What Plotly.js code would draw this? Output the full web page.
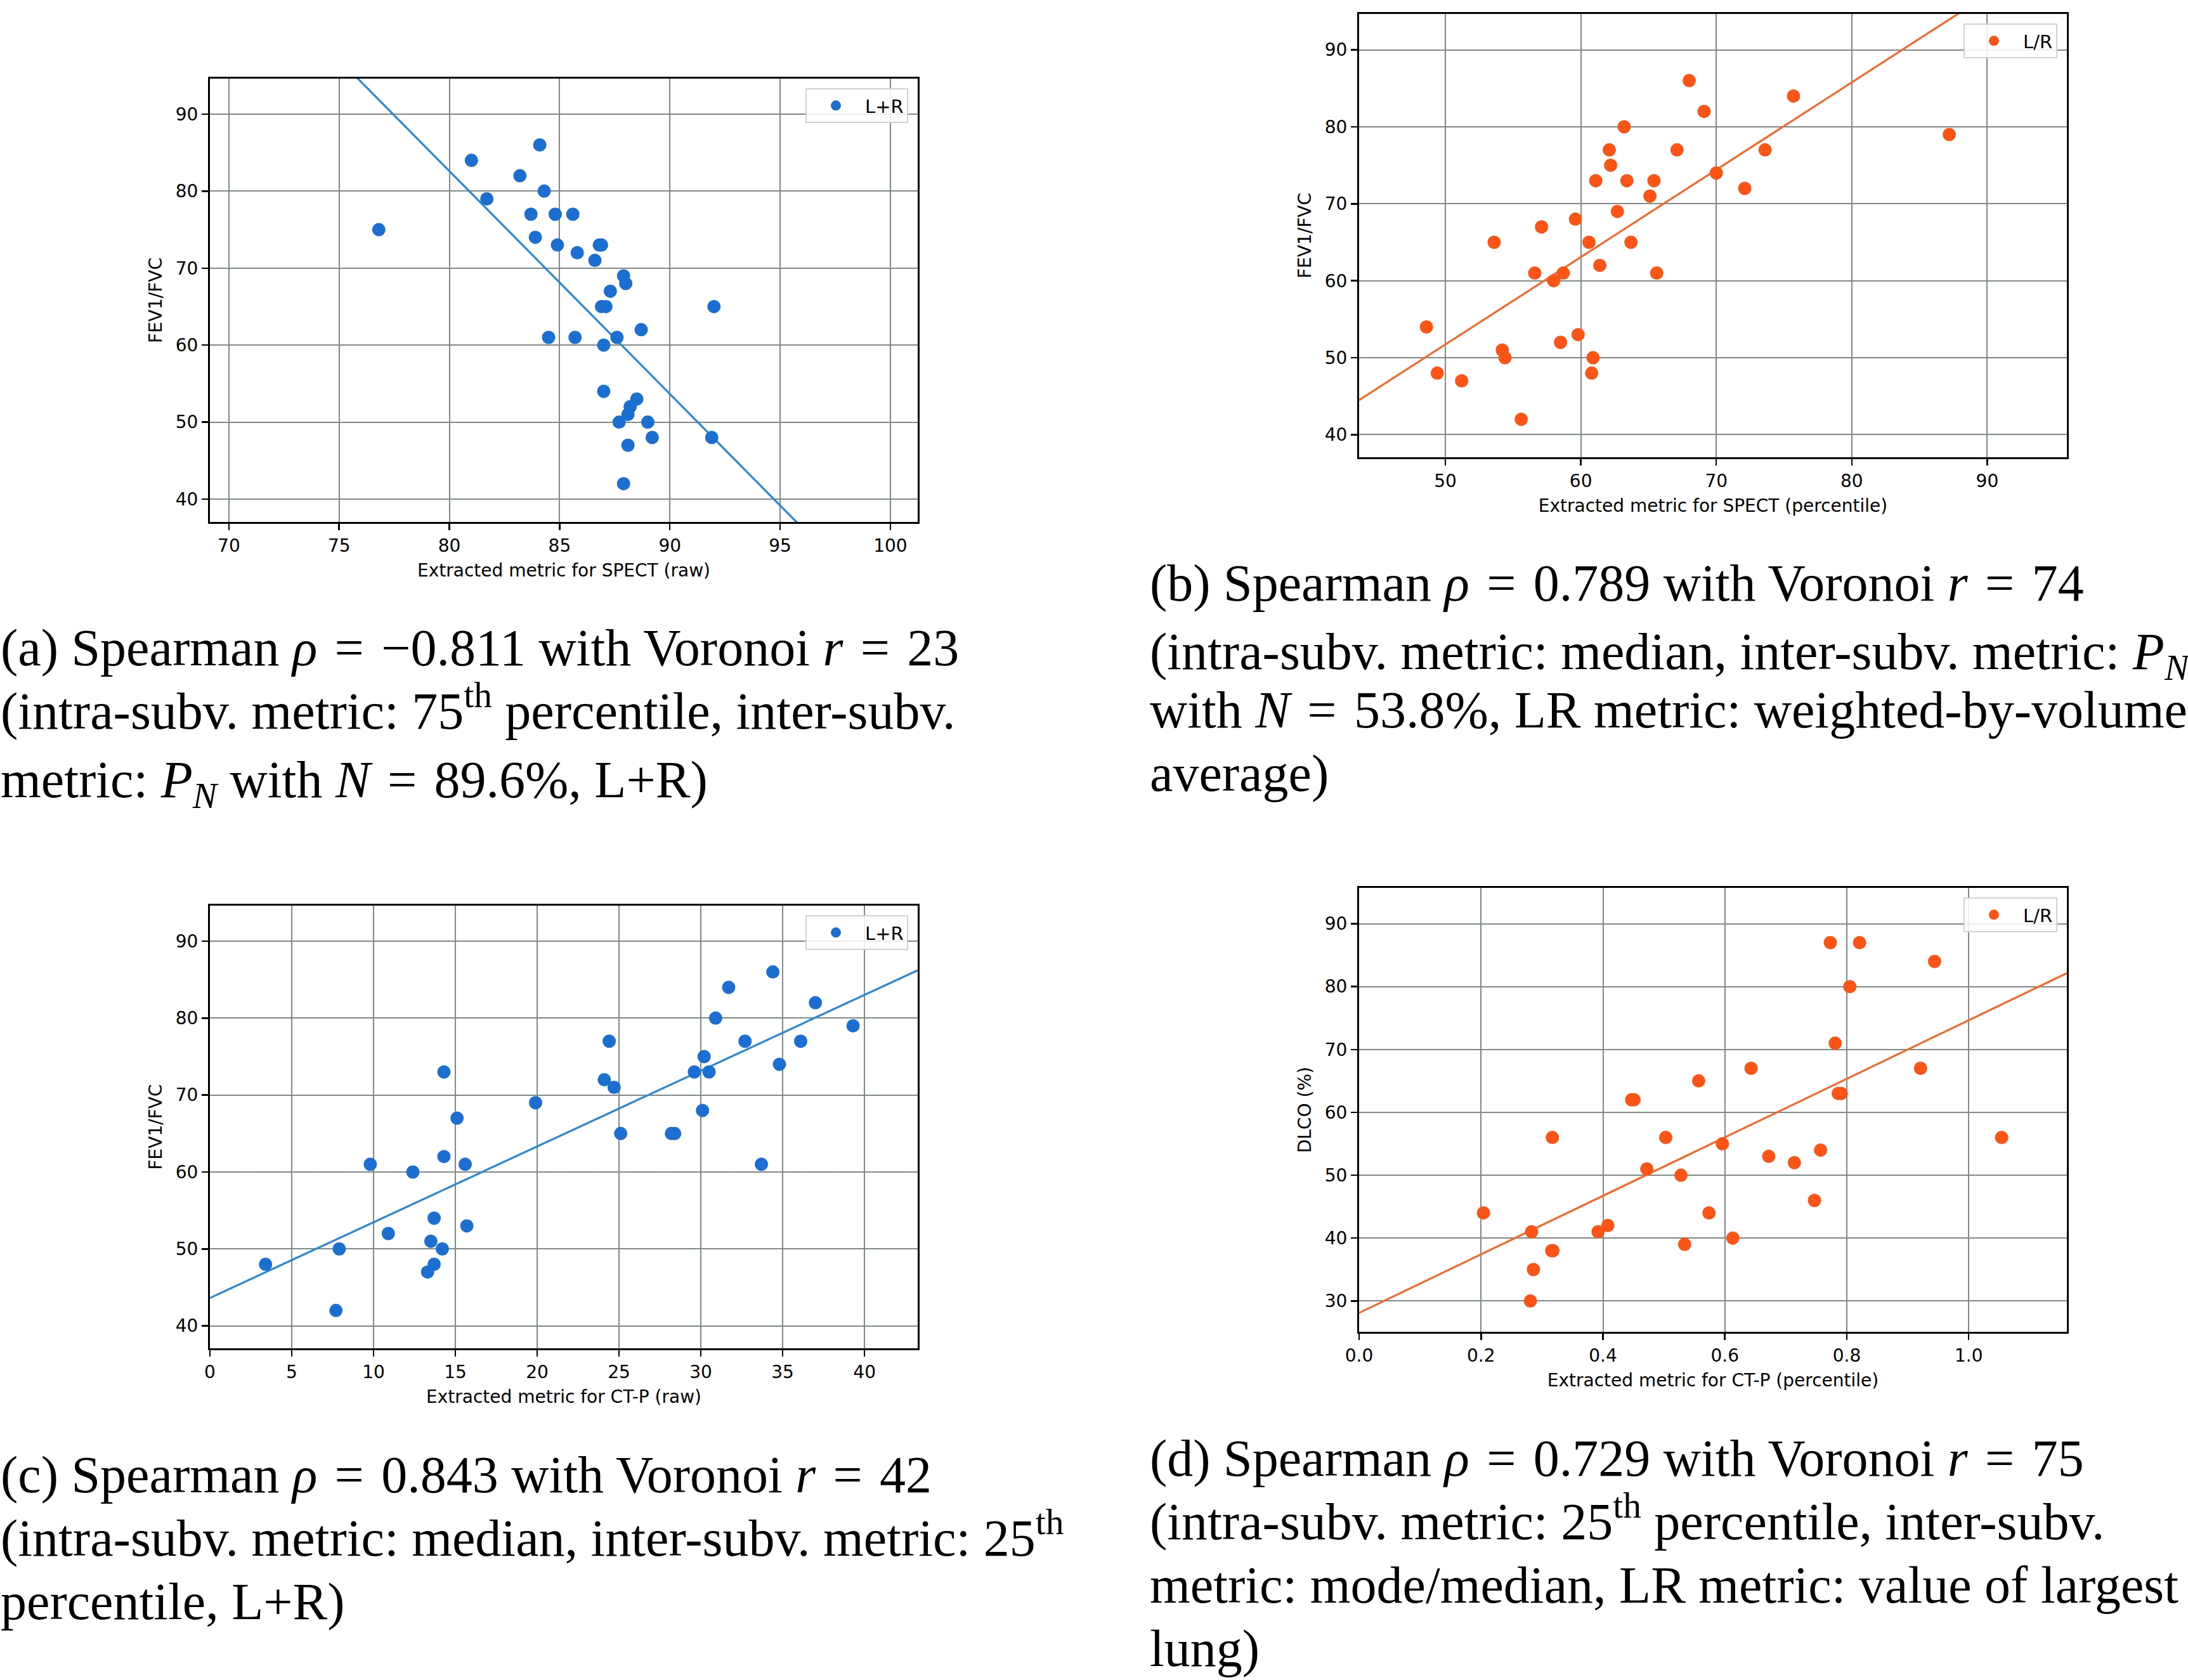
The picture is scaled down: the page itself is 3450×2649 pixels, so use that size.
<!DOCTYPE html>
<html>
<head>
<meta charset="utf-8">
<script src="https://cdn.plot.ly/plotly-3.0.1.min.js"></script>
<style>html,body{margin:0;padding:0;background:#fff;}</style>
</head>
<body>
<div id="chart" style="width:3450px;height:2649px;"></div>
<script>
// ---- (a) SPECT, raw metric, L+R ----
const spectRawX = [76.8, 81.0, 84.1, 83.2, 84.3, 81.7, 83.7, 84.8, 85.6, 83.9, 84.9, 86.8, 86.9, 85.8, 86.6, 87.9, 88.0, 87.3,
                   86.9, 87.1, 92.0, 88.7, 84.5, 85.7, 87.6, 87.0, 87.0, 88.5, 88.2, 88.1, 87.7, 89.0, 89.2, 91.9, 88.1, 87.9];
const spectRawY = [75, 84, 86, 82, 80, 79, 77, 77, 77, 74, 73, 73, 73, 72, 71, 69, 68, 67,
                   65, 65, 65, 62, 61, 61, 61, 60, 54, 53, 52, 51, 50, 50, 48, 48, 47, 42];
const spectRawFit = {slope: -2.895, intercept: 314.2};

// ---- (b) SPECT, percentile metric, L/R ----
const spectPctX = [68.0, 75.7, 69.1, 63.2, 87.2, 62.1, 67.1, 73.6, 62.2, 70.0, 61.1, 63.4, 65.4, 72.1, 65.1, 62.7, 59.6, 57.1,
                   53.6, 60.6, 63.7, 61.4, 56.6, 58.7, 65.6, 58.0, 48.6, 59.8, 58.5, 54.2, 54.4, 60.9, 49.4, 60.8, 51.2, 55.6];
const spectPctY = [86, 84, 82, 80, 79, 77, 77, 77, 75, 74, 73, 73, 73, 72, 71, 69, 68, 67,
                   65, 65, 65, 62, 61, 61, 61, 60, 54, 53, 52, 51, 50, 50, 48, 48, 47, 42];
const spectPctFit = {slope: 1.135, intercept: -5.03};

// ---- (c) CT-P, raw metric, L+R ----
const ctpRawX = [3.4, 7.7, 7.9, 9.8, 10.9, 12.4, 13.3, 13.5, 13.7, 13.7, 14.2, 14.3, 14.3, 15.1, 15.6, 15.7, 19.9, 24.1,
                 24.4, 24.7, 25.1, 28.2, 28.4, 29.6, 30.1, 30.2, 30.5, 30.9, 31.7, 32.7, 33.7, 34.4, 34.8, 36.1, 37.0, 39.3];
const ctpRawY = [48, 42, 50, 61, 52, 60, 47, 51, 54, 48, 50, 73, 62, 67, 61, 53, 69, 72,
                 77, 71, 65, 65, 65, 73, 68, 75, 73, 80, 84, 77, 61, 86, 74, 77, 82, 79];
const ctpRawFit = {slope: 0.985, intercept: 43.62};

// ---- (d) CT-P, percentile metric, L/R, against DLCO ----
const ctpPctX = [0.773, 0.821, 0.944, 0.805, 0.781, 0.643, 0.921, 0.557, 0.786, 0.791, 0.447, 0.451, 0.317, 0.503, 1.054,
                 0.596, 0.757, 0.672, 0.714, 0.472, 0.528, 0.747, 0.204, 0.574, 0.408, 0.283, 0.392, 0.613, 0.534, 0.316,
                 0.318, 0.286, 0.281];
const ctpPctY = [87, 87, 84, 80, 71, 67, 67, 65, 63, 63, 62, 62, 56, 56, 56,
                 55, 54, 53, 52, 51, 50, 46, 44, 44, 42, 41, 41, 40, 39, 38,
                 38, 35, 30];
const ctpPctFit = {slope: 46.54, intercept: 28.10};

// ---- axis ticks ----
const ticksSpectRaw = [70, 75, 80, 85, 90, 95, 100];
const ticksSpectPct = [50, 60, 70, 80, 90];
const ticksCtpRaw = [0, 5, 10, 15, 20, 25, 30, 35, 40];
const ticksCtpPct = [0, 0.2, 0.4, 0.6, 0.8, 1.0];
const ticksFev = [40, 50, 60, 70, 80, 90];
const ticksDlco = [30, 40, 50, 60, 70, 80, 90];

// ---- captions (EQ = relation with math spacing) ----
const EQ = '\u2004=\u2004';
const captionA = [
  "(a) Spearman <i>ρ</i>" + EQ + "−0.811 with Voronoi <i>r</i>" + EQ + "23",
  "(intra-subv. metric: 75<sup>th</sup> percentile, inter-subv.",
  "metric: <i>P</i><sub><i>N</i></sub> with <i>N</i>" + EQ + "89.6%, L+R)"
];
const captionB = [
  "(b) Spearman <i>ρ</i>" + EQ + "0.789 with Voronoi <i>r</i>" + EQ + "74",
  "(intra-subv. metric: median, inter-subv. metric: <i>P</i><sub><i>N</i></sub>",
  "with <i>N</i>" + EQ + "53.8%, LR metric: weighted-by-volume",
  "average)"
];
const captionC = [
  "(c) Spearman <i>ρ</i>" + EQ + "0.843 with Voronoi <i>r</i>" + EQ + "42",
  "(intra-subv. metric: median, inter-subv. metric: 25<sup>th</sup>",
  "percentile, L+R)"
];
const captionD = [
  "(d) Spearman <i>ρ</i>" + EQ + "0.729 with Voronoi <i>r</i>" + EQ + "75",
  "(intra-subv. metric: 25<sup>th</sup> percentile, inter-subv.",
  "metric: mode/median, LR metric: value of largest",
  "lung)"
];

// ---- page geometry (pixels) ----
const W = 3450, H = 2649;
const px = v => v / W;
const py = v => 1 - v / H;

const BLUE_PT = '#1c6fd1', BLUE_LN = '#2a88d4';
const ORANGE_PT = '#fa5516', ORANGE_LN = '#f46a2c';
const TICK_FONT = {family: 'DejaVu Sans', size: 28, color: '#000'};
const CAP_FONT = {family: 'Liberation Serif', size: 82, color: '#000'};

const panels = [
  {x: spectRawX, y: spectRawY, fit: spectRawFit, name: 'L+R', pt: BLUE_PT, ln: BLUE_LN,
   box: [331, 1447, 124, 823], xr: [69.14, 101.24], yr: [37.03, 94.61],
   xt: ticksSpectRaw, yt: ticksFev, xlab: 'Extracted metric for SPECT (raw)', ylab: 'FEV1/FVC', fmt: ''},
  {x: spectPctX, y: spectPctY, fit: spectPctFit, name: 'L/R', pt: ORANGE_PT, ln: ORANGE_LN,
   box: [2143, 3259, 22, 721], xr: [43.63, 95.88], yr: [37.07, 94.66],
   xt: ticksSpectPct, yt: ticksFev, xlab: 'Extracted metric for SPECT (percentile)', ylab: 'FEV1/FVC', fmt: ''},
  {x: ctpRawX, y: ctpRawY, fit: ctpRawFit, name: 'L+R', pt: BLUE_PT, ln: BLUE_LN,
   box: [331, 1447, 1428, 2126], xr: [0, 43.25], yr: [37.08, 94.62],
   xt: ticksCtpRaw, yt: ticksFev, xlab: 'Extracted metric for CT-P (raw)', ylab: 'FEV1/FVC', fmt: ''},
  {x: ctpPctX, y: ctpPctY, fit: ctpPctFit, name: 'L/R', pt: ORANGE_PT, ln: ORANGE_LN,
   box: [2143, 3259, 1400, 2100], xr: [0, 1.161], yr: [25.09, 95.7],
   xt: ticksCtpPct, yt: ticksDlco, xlab: 'Extracted metric for CT-P (percentile)', ylab: 'DLCO (%)', fmt: '.1f'}
];

const data = [];
const layout = {
  width: W, height: H,
  margin: {l: 0, r: 0, t: 0, b: 0},
  paper_bgcolor: '#ffffff', plot_bgcolor: '#ffffff',
  showlegend: true,
  annotations: []
};

panels.forEach((p, i) => {
  const n = i === 0 ? '' : String(i + 1);
  const xa = 'x' + n, ya = 'y' + n;
  const legendId = 'legend' + n;
  const [x0, x1, y0, y1] = p.box;

  // fitted regression line across the visible x range
  const lx = [p.xr[0], p.xr[1]];
  const ly = lx.map(v => p.fit.intercept + p.fit.slope * v);
  data.push({
    type: 'scatter', mode: 'lines', x: lx, y: ly, xaxis: xa, yaxis: ya,
    line: {color: p.ln, width: 3.2}, showlegend: false, hoverinfo: 'skip'
  });
  data.push({
    type: 'scatter', mode: 'markers', x: p.x, y: p.y, xaxis: xa, yaxis: ya,
    name: p.name, legend: legendId,
    marker: {color: p.pt, size: 21, line: {width: 0}}
  });

  const common = {
    ticks: 'outside', ticklen: 10, tickwidth: 2.5, tickcolor: '#000',
    showline: true, mirror: true, linecolor: '#000', linewidth: 3,
    showgrid: true, gridcolor: '#7f8987', gridwidth: 2, zeroline: false,
    tickfont: TICK_FONT, automargin: false, tickmode: 'array'
  };
  layout['xaxis' + n] = Object.assign({}, common, {
    domain: [px(x0), px(x1)], range: p.xr, anchor: ya, tickvals: p.xt,
    tickformat: p.fmt,
    title: {text: p.xlab, font: TICK_FONT, standoff: 14}
  });
  layout['yaxis' + n] = Object.assign({}, common, {
    domain: [py(y1), py(y0)], range: p.yr, anchor: xa, tickvals: p.yt,
    title: {text: p.ylab, font: TICK_FONT, standoff: 13}
  });
  layout[legendId] = {
    x: px(x1 - 15), y: py(y0 + 15), xanchor: 'right', yanchor: 'top',
    xref: 'paper', yref: 'paper',
    bgcolor: 'rgba(255,255,255,0.85)', bordercolor: '#cfd3d3', borderwidth: 2,
    font: {family: 'DejaVu Sans', size: 29, color: '#000'},
    itemwidth: 82
  };
});

// caption blocks under each panel: [lines, left x, first baseline y]
const captions = [
  [captionA, 0, 1050],
  [captionB, 1812, 948],
  [captionC, 0, 2354],
  [captionD, 1812, 2328]
];
const LINE_STEP = 100;
captions.forEach(([lines, left, base]) => {
  lines.forEach((txt, k) => {
    const baseline = base + k * LINE_STEP;
    const descent = txt.indexOf('<sub>') >= 0 ? 0.45 : 0.216;
    layout.annotations.push({
      xref: 'paper', yref: 'paper', x: px(left), y: py(baseline + descent * CAP_FONT.size),
      xanchor: 'left', yanchor: 'bottom', align: 'left', showarrow: false,
      borderpad: 0, text: txt, font: CAP_FONT
    });
  });
});

Plotly.newPlot('chart', data, layout, {staticPlot: true, displayModeBar: false});
</script>
</body>
</html>
